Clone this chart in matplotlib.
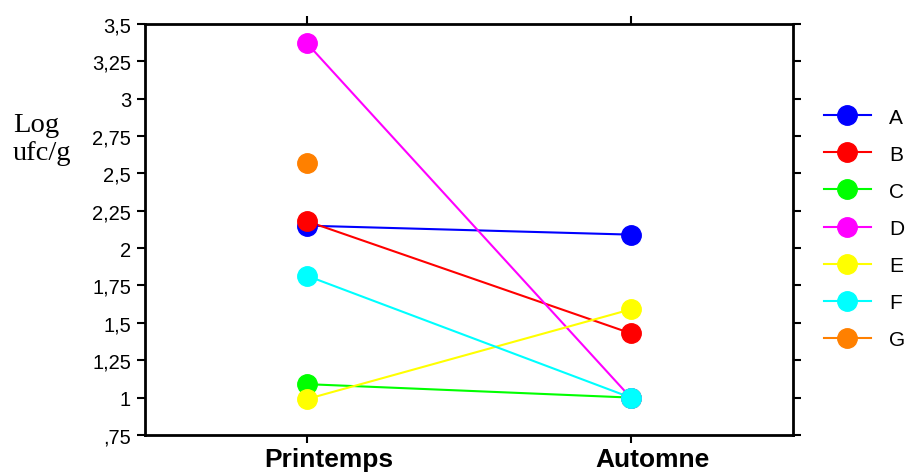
import numpy as np
import matplotlib.pyplot as plt
from matplotlib.lines import Line2D
from matplotlib.transforms import ScaledTranslation

# saisons (axe x)
saisons = ["Printemps", "Automne"]

# log ufc/g par échantillon (None = pas de mesure)
noms = ["A", "B", "C", "D", "E", "F", "G"]
printemps = [2.15, 2.18, 1.09, 3.37, 0.99, 1.815, 2.57]
automne = [2.09, 1.43, 1.00, 1.00, 1.59, 1.00, None]
couleurs = ["#0000ff", "#ff0000", "#00ff00", "#ff00ff", "#ffff00", "#00ffff", "#ff8000"]

yticks = [0.75, 1.0, 1.25, 1.5, 1.75, 2.0, 2.25, 2.5, 2.75, 3.0, 3.25, 3.5]
ytick_labels = [",75", "1", "1,25", "1,5", "1,75", "2", "2,25", "2,5", "2,75", "3", "3,25", "3,5"]

fig = plt.figure(figsize=(9.09, 4.77), dpi=100)
ax = fig.add_axes([0.1595, 0.086, 0.7125, 0.862])

x = np.arange(len(saisons))
handles = []
for nom, p, a, c in zip(noms, printemps, automne, couleurs):
    if a is None:
        ax.plot([x[0]], [p], 'o', color=c, markersize=14, zorder=3)
    else:
        ax.plot(x, [p, a], '-', color=c, linewidth=1.5, zorder=2)
        ax.plot(x, [p, a], 'o', color=c, markersize=14, zorder=3)
    handles.append(Line2D([], [], color=c, marker='o', markersize=14, linewidth=1.5, label=nom))

ax.set_xlim(-0.5, 1.5)
ax.set_ylim(0.75, 3.5)
ax.set_xticks(x)
ax.set_xticklabels([])
# les libellés de l'original sont un peu décalés vers la droite
decal = ScaledTranslation(22 / 100, -12 / 100, fig.dpi_scale_trans)
for xi, s in zip(x, saisons):
    ax.text(xi, 0, s, transform=ax.get_xaxis_transform() + decal,
            fontsize=19, fontweight='bold', family='Liberation Sans',
            ha='center', va='top')
ax.set_yticks(yticks)
ax.set_yticklabels(ytick_labels, fontsize=14.5, family='Liberation Sans')
ax.tick_params(direction='out', length=6, width=1.5, top=True, right=True,
               labelright=False, labeltop=False)
ax.tick_params(axis='y', pad=4)
for s in ax.spines.values():
    s.set_linewidth(2)

fig.text(0.0143, 0.707, "Log\nufc/g", fontsize=20.5, family='Liberation Serif',
         ha='left', va='center', linespacing=1.15)

leg = fig.legend(handles=handles, loc='upper left', bbox_to_anchor=(0.897, 0.79),
                 frameon=False, handlelength=2.26, labelspacing=0.87,
                 handletextpad=0.87, borderaxespad=0,
                 prop={'family': 'Liberation Sans', 'size': 15})

plt.savefig("out.png", dpi=100)
